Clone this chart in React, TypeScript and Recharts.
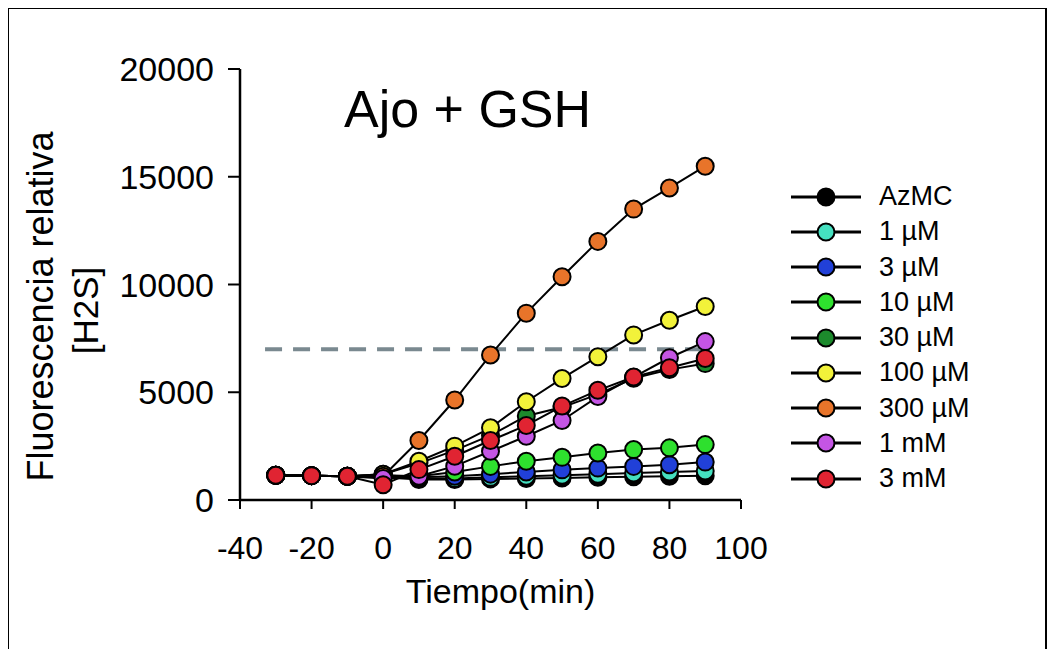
import { LineChart, Line, XAxis, YAxis, ReferenceLine, Label } from 'recharts';

const times = [-30, -20, -10, 0, 10, 20, 30, 40, 50, 60, 70, 80, 90];

const azmc = [1150, 1130, 1100, 1050, 950, 950, 980, 1000, 1020, 1050, 1080, 1100, 1120];
const uM1 = [1150, 1130, 1100, 1100, 1000, 1000, 1050, 1100, 1150, 1200, 1250, 1300, 1350];
const uM3 = [1150, 1130, 1100, 1150, 1050, 1100, 1200, 1300, 1400, 1480, 1560, 1640, 1760];
const uM10 = [1150, 1130, 1100, 1150, 1100, 1300, 1560, 1800, 1980, 2180, 2340, 2420, 2570];
const uM30 = [1150, 1130, 1100, 1200, 1700, 2300, 3000, 3900, 4300, 4900, 5650, 6050, 6330];
const uM100 = [1150, 1130, 1100, 1200, 1800, 2500, 3350, 4560, 5640, 6650, 7660, 8340, 8980];
const uM300 = [1150, 1130, 1100, 1100, 2760, 4640, 6730, 8670, 10360, 12000, 13500, 14480, 15490];
const mM1 = [1150, 1130, 1100, 1000, 1100, 1570, 2260, 2960, 3690, 4800, 5700, 6600, 7350];
const mM3 = [1150, 1130, 1100, 710, 1410, 2030, 2760, 3460, 4360, 5090, 5710, 6140, 6570];

const xTicks = [-40, -20, 0, 20, 40, 60, 80, 100];
const yTicks = [0, 5000, 10000, 15000, 20000];
const threshold = 7000;

const series = [
  { key: 'azmc', name: 'AzMC', color: '#000000', values: azmc },
  { key: 'uM1', name: '1 µM', color: '#45e0c0', values: uM1 },
  { key: 'uM3', name: '3 µM', color: '#2140d8', values: uM3 },
  { key: 'uM10', name: '10 µM', color: '#2ee02e', values: uM10 },
  { key: 'uM30', name: '30 µM', color: '#1c8a2c', values: uM30 },
  { key: 'uM100', name: '100 µM', color: '#f2f23a', values: uM100 },
  { key: 'uM300', name: '300 µM', color: '#e8742a', values: uM300 },
  { key: 'mM1', name: '1 mM', color: '#c455e4', values: mM1 },
  { key: 'mM3', name: '3 mM', color: '#e02432', values: mM3 },
];

const data = times.map((t, i) => {
  const row: Record<string, number> = { t };
  series.forEach(s => {
    row[s.key] = s.values[i];
  });
  return row;
});

const font = '"Liberation Sans", Arial, Helvetica, sans-serif';

const YLabel = (props: any) => {
  const vb = props.viewBox || {};
  const cy = vb.y + vb.height / 2 + 22;
  return (
    <g fontFamily={font} fill="#000">
      <text x={31} y={cy} fontSize={36} textAnchor="middle" dominantBaseline="central" transform={`rotate(-90, 31, ${cy})`}>
        Fluorescencia relativa
      </text>
      <text x={76} y={cy + 4} fontSize={35} textAnchor="middle" dominantBaseline="central" transform={`rotate(-90, 76, ${cy + 4})`}>
        [H2S]
      </text>
    </g>
  );
};

const XLabel = (props: any) => {
  const vb = props.viewBox || {};
  return (
    <text x={vb.x + vb.width / 2 + 10} y={594} textAnchor="middle" fontFamily={font} fontSize={34} fill="#000">
      Tiempo(min)
    </text>
  );
};

const App = () => {
  return (
    <div
      style={{
        position: 'relative',
        width: 1036,
        height: 641,
        borderTop: '2.5px solid #000',
        borderLeft: '2.5px solid #000',
        borderRight: '2.5px solid #000',
        marginTop: -1,
        marginLeft: -1,
        background: '#fff',
      }}
    >
      <LineChart
        width={1036}
        height={639}
        data={data}
        margin={{ top: 60, right: 304, bottom: 88, left: 151 }}
      >
        <XAxis
          dataKey="t"
          type="number"
          domain={[-40, 100]}
          ticks={xTicks}
          height={60}
          axisLine={{ stroke: '#000', strokeWidth: 2.5 }}
          tickLine={{ stroke: '#000', strokeWidth: 2 }}
          tickSize={9}
          tickMargin={27}
          tick={{ fill: '#000', fontSize: 32, fontFamily: font }}
          interval={0}
        >
          <Label content={<XLabel />} />
        </XAxis>
        <YAxis
          type="number"
          domain={[0, 20000]}
          ticks={yTicks}
          width={80}
          axisLine={{ stroke: '#000', strokeWidth: 2.5 }}
          tickLine={{ stroke: '#000', strokeWidth: 2 }}
          tickSize={12}
          tickMargin={14}
          tick={{ fill: '#000', fontSize: 34, fontFamily: font }}
          interval={0}
        >
          <Label content={<YLabel />} />
        </YAxis>
        <ReferenceLine
          segment={[{ x: -33, y: threshold }, { x: 89, y: threshold }]}
          stroke="#7a8990"
          strokeWidth={4}
          strokeDasharray="17 11"
        />
        {series.map(s => (
          <Line
            key={s.key}
            dataKey={s.key}
            name={s.name}
            type="linear"
            stroke="#000"
            strokeWidth={2}
            dot={{ r: 8.5, fill: s.color, stroke: '#000', strokeWidth: 2 }}
            activeDot={false}
            isAnimationActive={false}
          />
        ))}
      </LineChart>

      <div
        style={{
          position: 'absolute',
          left: 335,
          top: 74,
          fontFamily: font,
          fontSize: 52,
          lineHeight: 1,
          color: '#000',
          whiteSpace: 'nowrap',
        }}
      >
        Ajo + GSH
      </div>

      <div style={{ position: 'absolute', left: 782, top: 170, fontFamily: font, fontSize: 27, color: '#000' }}>
        {series.map(s => (
          <div key={s.key} style={{ display: 'flex', alignItems: 'center', height: 35.25 }}>
            <svg width={72} height={22} style={{ display: 'block' }}>
              <line x1={0} y1={11} x2={70} y2={11} stroke="#000" strokeWidth={3} />
              <circle cx={35} cy={11} r={8.5} fill={s.color} stroke="#000" strokeWidth={2} />
            </svg>
            <span style={{ marginLeft: 16, lineHeight: 1, whiteSpace: 'nowrap' }}>{s.name}</span>
          </div>
        ))}
      </div>
    </div>
  );
};

export default App;
